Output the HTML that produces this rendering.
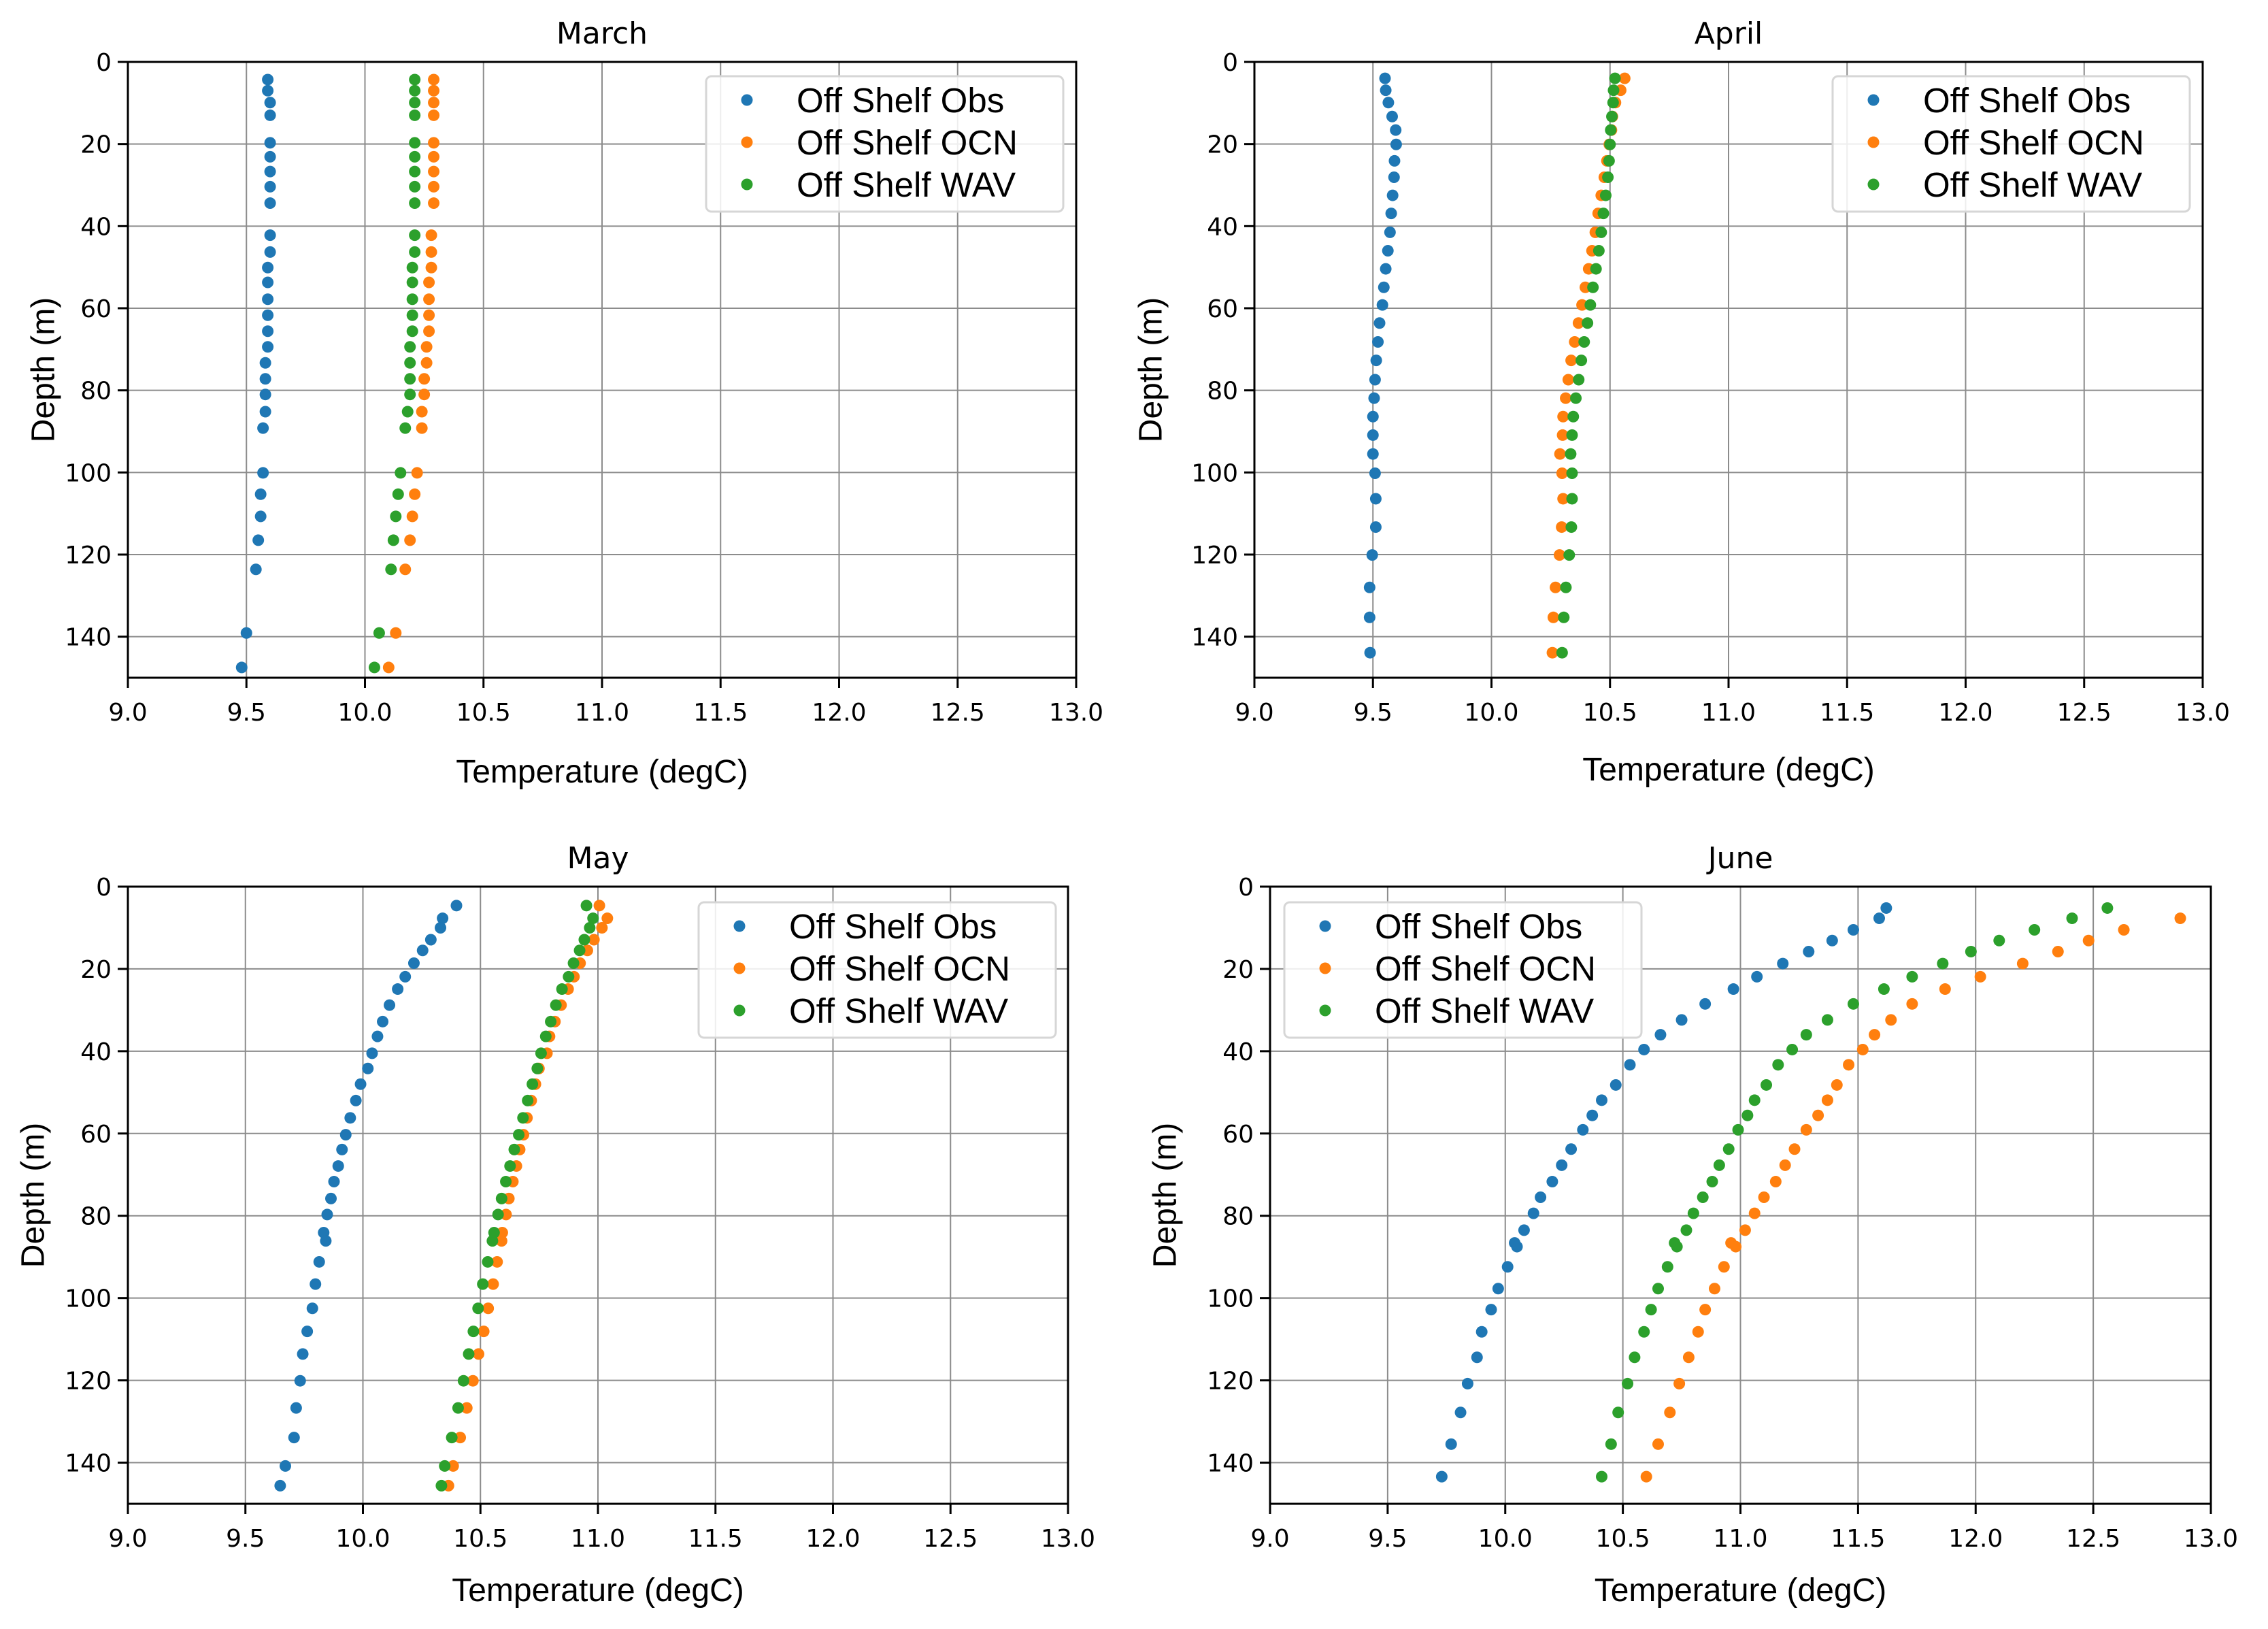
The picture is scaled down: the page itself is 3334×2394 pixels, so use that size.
<!DOCTYPE html>
<html><head><meta charset="utf-8"><style>
html,body{margin:0;padding:0;background:#fff}
svg{display:block}
text{font-family:"DejaVu Sans","Liberation Sans",sans-serif}
.lab{font-family:"Liberation Sans",Arial,sans-serif}
</style></head>
<body>
<svg id="fig" width="3334" height="2394" viewBox="0 0 3334 2394" xmlns="http://www.w3.org/2000/svg"></svg>
<script>
const xTicks=[9.0,9.5,10.0,10.5,11.0,11.5,12.0,12.5,13.0];
const xTickLabels=["9.0","9.5","10.0","10.5","11.0","11.5","12.0","12.5","13.0"];
const yTicks=[0,20,40,60,80,100,120,140];
const seriesNames=["Off Shelf Obs","Off Shelf OCN","Off Shelf WAV"];
const colors=["#1f77b4","#ff7f0e","#2ca02c"];

// March
const marDepth=[4.3,7.0,9.9,13.0,19.7,23.1,26.7,30.4,34.4,42.2,46.3,50.1,53.7,57.8,61.7,65.6,69.4,73.3,77.2,81.0,85.2,89.2,100.1,105.3,110.7,116.5,123.6,139.1,147.5];
const marObs=[9.59,9.59,9.60,9.60,9.60,9.60,9.60,9.60,9.60,9.60,9.60,9.59,9.59,9.59,9.59,9.59,9.59,9.58,9.58,9.58,9.58,9.57,9.57,9.56,9.56,9.55,9.54,9.50,9.48];
const marOcn=[10.29,10.29,10.29,10.29,10.29,10.29,10.29,10.29,10.29,10.28,10.28,10.28,10.27,10.27,10.27,10.27,10.26,10.26,10.25,10.25,10.24,10.24,10.22,10.21,10.20,10.19,10.17,10.13,10.10];
const marWav=[10.21,10.21,10.21,10.21,10.21,10.21,10.21,10.21,10.21,10.21,10.21,10.20,10.20,10.20,10.20,10.20,10.19,10.19,10.19,10.19,10.18,10.17,10.15,10.14,10.13,10.12,10.11,10.06,10.04];

// April
const aprDepth=[4.0,6.9,9.9,13.3,16.6,20.1,24.1,28.1,32.5,36.9,41.5,46.0,50.4,54.9,59.2,63.6,68.2,72.7,77.4,81.9,86.4,90.9,95.5,100.2,106.4,113.3,120.1,128.0,135.3,143.9];
const aprObs=[9.551,9.554,9.565,9.581,9.596,9.598,9.591,9.589,9.583,9.577,9.572,9.563,9.554,9.546,9.540,9.528,9.521,9.514,9.509,9.505,9.500,9.500,9.500,9.509,9.512,9.512,9.497,9.486,9.486,9.488];
const aprOcn=[10.562,10.545,10.523,10.510,10.506,10.497,10.487,10.476,10.463,10.450,10.438,10.424,10.410,10.396,10.382,10.367,10.351,10.336,10.324,10.313,10.302,10.300,10.289,10.298,10.302,10.296,10.287,10.270,10.261,10.257];
const aprWav=[10.521,10.515,10.513,10.508,10.503,10.500,10.496,10.491,10.482,10.472,10.463,10.453,10.441,10.428,10.417,10.405,10.391,10.379,10.368,10.356,10.345,10.340,10.334,10.340,10.340,10.337,10.328,10.314,10.305,10.298];

// May
const mayDepth=[4.6,7.7,10.0,12.9,15.5,18.6,21.9,24.9,28.8,32.8,36.4,40.5,44.2,48.0,52.0,56.2,60.3,63.9,67.9,71.7,75.8,79.7,84.1,86.1,91.2,96.6,102.5,108.1,113.6,120.1,126.7,133.9,140.8,145.6];
const mayObs=[10.398,10.339,10.330,10.289,10.254,10.217,10.180,10.148,10.113,10.084,10.062,10.039,10.021,9.990,9.970,9.946,9.927,9.911,9.895,9.877,9.864,9.848,9.833,9.842,9.814,9.798,9.785,9.763,9.744,9.733,9.716,9.707,9.670,9.648];
const mayOcn=[11.006,11.040,11.017,10.983,10.955,10.924,10.898,10.873,10.843,10.817,10.794,10.783,10.749,10.734,10.716,10.698,10.683,10.667,10.653,10.638,10.621,10.609,10.593,10.590,10.571,10.554,10.533,10.514,10.492,10.468,10.442,10.414,10.384,10.364];
const mayWav=[10.951,10.979,10.965,10.942,10.922,10.896,10.875,10.847,10.821,10.799,10.778,10.758,10.742,10.721,10.701,10.681,10.663,10.644,10.626,10.608,10.590,10.575,10.558,10.551,10.531,10.510,10.490,10.470,10.450,10.428,10.405,10.378,10.348,10.334];

// June
const junDepth=[5.2,7.7,10.5,13.1,15.8,18.7,21.9,24.9,28.5,32.4,36.0,39.6,43.3,48.2,51.9,55.6,59.1,63.8,67.7,71.7,75.5,79.4,83.5,86.6,87.5,92.4,97.7,102.8,108.2,114.4,120.8,127.8,135.5,143.4];
const junObs=[11.62,11.59,11.48,11.39,11.29,11.18,11.07,10.97,10.85,10.75,10.66,10.59,10.53,10.47,10.41,10.37,10.33,10.28,10.24,10.20,10.15,10.12,10.08,10.04,10.05,10.01,9.97,9.94,9.90,9.88,9.84,9.81,9.77,9.73];
const junOcnDepth=[7.7,10.5,13.1,15.8,18.7,21.9,24.9,28.5,32.4,36.0,39.6,43.3,48.2,51.9,55.6,59.1,63.8,67.7,71.7,75.5,79.4,83.5,86.6,87.5,92.4,97.7,102.8,108.2,114.4,120.8,127.8,135.5,143.4];
const junOcn=[12.87,12.63,12.48,12.35,12.20,12.02,11.87,11.73,11.64,11.57,11.52,11.46,11.41,11.37,11.33,11.28,11.23,11.19,11.15,11.10,11.06,11.02,10.96,10.98,10.93,10.89,10.85,10.82,10.78,10.74,10.70,10.65,10.60];
const junWav=[12.56,12.41,12.25,12.10,11.98,11.86,11.73,11.61,11.48,11.37,11.28,11.22,11.16,11.11,11.06,11.03,10.99,10.95,10.91,10.88,10.84,10.80,10.77,10.72,10.73,10.69,10.65,10.62,10.59,10.55,10.52,10.48,10.45,10.41];

const panels=[
 {name:"march",title:"March",x0:188,x1:1582,y0:91,y1:996,ylx:64,xly:1150,leg:[1038,112],
  series:[[marObs,marDepth],[marOcn,marDepth],[marWav,marDepth]]},
 {name:"april",title:"April",x0:1844,x1:3238,y0:91,y1:996,ylx:1692,xly:1147,leg:[2694,112],
  series:[[aprObs,aprDepth],[aprOcn,aprDepth],[aprWav,aprDepth]]},
 {name:"may",title:"May",x0:188,x1:1570,y0:1303,y1:2210,ylx:49,xly:2353,leg:[1027,1326],
  series:[[mayObs,mayDepth],[mayOcn,mayDepth],[mayWav,mayDepth]]},
 {name:"june",title:"June",x0:1867,x1:3250,y0:1303,y1:2210,ylx:1713,xly:2353,leg:[1888,1326],
  series:[[junObs,junDepth],[junOcn,junOcnDepth],[junWav,junDepth]]}
];

const NS="http://www.w3.org/2000/svg";
const fig=document.getElementById('fig');
function mk(tag,attrs,parent){const e=document.createElementNS(NS,tag);for(const k in attrs)e.setAttribute(k,attrs[k]);(parent||fig).appendChild(e);return e;}

panels.forEach(p=>{
  const sx=v=>p.x0+(v-9)/4*(p.x1-p.x0);
  const sy=d=>p.y0+d/150*(p.y1-p.y0);
  const g=mk('g',{});
  
  
  xTicks.forEach(t=>{const l=mk('line',{x1:sx(t),x2:sx(t),y1:p.y0,y2:p.y1,stroke:'#8c8c8c','stroke-width':2},g);
    });
  yTicks.forEach(t=>{const l=mk('line',{x1:p.x0,x2:p.x1,y1:sy(t),y2:sy(t),stroke:'#8c8c8c','stroke-width':2},g);
    });
  p.series.forEach((s,si)=>{
    const sg=mk('g',{fill:colors[si]},g);
    
    
    s[0].forEach((v,i)=>{const c=mk('circle',{cx:sx(v),cy:sy(s[1][i]),r:8.5},sg);
      });
  });
  const r=mk('rect',{x:p.x0,y:p.y0,width:p.x1-p.x0,height:p.y1-p.y0,fill:'none',stroke:'#000','stroke-width':3},g);
  
  xTicks.forEach((t,i)=>{
    mk('line',{x1:sx(t),x2:sx(t),y1:p.y1,y2:p.y1+15,stroke:'#000','stroke-width':3},g);
    const tx=mk('text',{x:sx(t),y:p.y1+63,'font-size':36,'text-anchor':'middle'},g);
    tx.textContent=xTickLabels[i];
    
  });
  yTicks.forEach(t=>{
    mk('line',{x1:p.x0-15,x2:p.x0,y1:sy(t),y2:sy(t),stroke:'#000','stroke-width':3},g);
    const tx=mk('text',{x:p.x0-24,y:sy(t)+13,'font-size':36,'text-anchor':'end'},g);
    tx.textContent=String(t);
    
  });
  const ti=mk('text',{x:(p.x0+p.x1)/2,y:p.y0-27,'font-size':44,'text-anchor':'middle'},g);
  ti.textContent=p.title;
  const xl=mk('text',{x:(p.x0+p.x1)/2,y:p.xly,'font-size':48,'text-anchor':'middle',class:'lab'},g);
  xl.textContent='Temperature (degC)';
  const cy=(p.y0+p.y1)/2;
  const yl=mk('text',{x:p.ylx,y:cy,'font-size':48,'text-anchor':'middle','dominant-baseline':'central',class:'lab',transform:`rotate(-90 ${p.ylx} ${cy})`},g);
  yl.textContent='Depth (m)';
  const [lx,ly]=p.leg;
  const lg=mk('g',{},g);
  
  mk('rect',{x:lx,y:ly,width:525,height:199,rx:8,fill:'#fff','fill-opacity':0.85,stroke:'#d6d6d6','stroke-width':3},lg);
  seriesNames.forEach((n,i)=>{
    const rowY=ly+35+i*62;
    const e=mk('g',{},lg);
    
    mk('circle',{cx:lx+60,cy:rowY,r:8.5,fill:colors[i]},e);
    const t=mk('text',{x:lx+133,y:rowY+18,'font-size':51,class:'lab'},e);
    t.textContent=n;
  });
});
</script>
</body></html>
